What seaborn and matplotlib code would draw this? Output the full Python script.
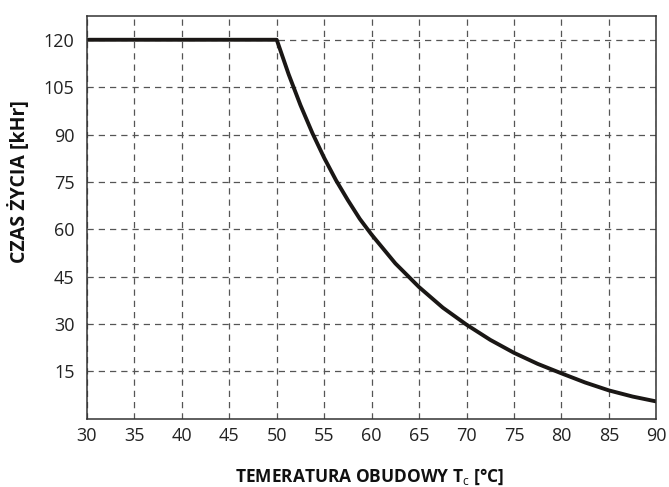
import matplotlib
matplotlib.use("Agg")
import matplotlib.pyplot as plt
import numpy as np
import pandas as pd
import seaborn as sns

## data ##
temperature = [30, 50, 51.25, 52.5, 53.75, 55, 56.25, 57.5, 58.75, 60, 62.5, 65, 67.5, 70,
               72.5, 75, 77.5, 80, 82.5, 85, 87.5, 90]
lifetime = [120, 120, 109.1, 99.3, 90.5, 82.6, 75.5, 69.2, 63.3, 58.3, 49.2, 41.7, 35.2, 29.8,
            25, 20.9, 17.4, 14.4, 11.5, 9.0, 7.05, 5.5]
x_ticks = np.arange(30, 91, 5)
y_ticks = np.arange(15, 121, 15)

df = pd.DataFrame({'T': temperature, 'L': lifetime})

## plotting params ##
sns.set_style('white')
plt.rcParams['font.family'] = ['Open Sans', 'DejaVu Sans']
plt.rcParams['mathtext.fontset'] = 'custom'
plt.rcParams['mathtext.bf'] = 'Open Sans:bold'
plt.rcParams['mathtext.rm'] = 'Open Sans'

fig = plt.figure(figsize=(6.69, 4.87), dpi=100)
ax = fig.add_axes([0.130, 0.140, 0.851, 0.827])

sns.lineplot(data=df, x='T', y='L', ax=ax, color='#1a1715', linewidth=2.8,
             estimator=None, sort=False)

ax.set_xlim(30, 90)
ax.set_ylim(0, 127.5)
ax.set_xticks(x_ticks)
ax.set_yticks(y_ticks)
ax.tick_params(length=0, labelsize=13, colors='#222222')
ax.tick_params(axis='x', pad=6)
ax.tick_params(axis='y', pad=9)
ax.grid(True, color='#555555', linestyle=(0, (5, 4)), linewidth=0.9)
for s in ax.spines.values():
    s.set_visible(True)
    s.set_color('#333333')
    s.set_linewidth(1.1)

ax.set_xlabel(r'TEMERATURA OBUDOWY T$_\mathrm{c}$ [°C]', fontsize=12.5,
              fontweight='bold', color='#111111')
ax.set_ylabel('CZAS ŻYCIA [kHr]', fontsize=14, fontweight='bold',
              color='#111111')
ax.xaxis.set_label_coords(0.496, -0.118)
ax.yaxis.set_label_coords(-0.100, 0.59)

plt.savefig('out.png', dpi=100)
plt.close()
